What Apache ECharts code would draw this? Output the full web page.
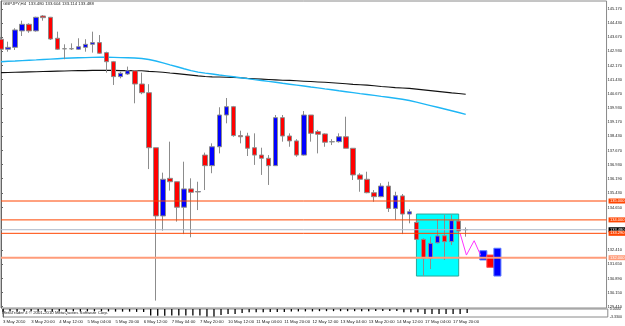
<!DOCTYPE html>
<html><head><meta charset="utf-8">
<script src="https://cdn.jsdelivr.net/npm/echarts@6/dist/echarts.min.js"></script>
<style>html,body{margin:0;padding:0;background:#fff}#c{width:625px;height:326px}</style>
</head><body><div id="c"></div>
<script>
// ---- data (GBPJPY, H4) ----
const timeLabelIdx = [0,4,8,12,16,20,24,28,32,36,40,44,48,52,56,60,64];
const timeLabels = ["3 May 2010","3 May 20:00","4 May 12:00","5 May 04:00","5 May 20:00","6 May 12:00","7 May 04:00","7 May 20:00","10 May 12:00","11 May 04:00","11 May 20:00","12 May 12:00","13 May 04:00","13 May 20:00","14 May 12:00","17 May 04:00","17 May 20:00"];
const opens  = [143.56,143.03,143.13,144.00,144.35,144.00,144.79,144.72,143.61,143.05,143.06,143.03,143.13,143.29,143.38,142.85,142.37,141.58,141.72,141.89,141.19,140.73,137.82,134.21,136.20,136.02,134.67,135.64,135.48,137.43,136.87,137.87,139.55,139.99,138.46,138.44,137.82,137.43,137.26,136.87,139.41,138.44,138.18,137.43,139.55,138.67,138.55,138.13,138.14,138.40,137.79,136.38,136.15,135.44,135.23,135.79,134.61,135.27,134.31,133.87,132.97,131.97,132.79,133.16,132.85,133.94,133.480];
const highs  = [143.68,143.43,144.14,144.54,144.40,144.75,144.84,144.74,143.96,143.29,143.34,143.61,143.56,143.96,143.78,142.90,142.41,141.84,142.11,141.93,141.79,141.18,137.82,136.50,138.14,136.02,137.08,136.20,136.02,137.56,138.05,139.96,140.45,140.03,138.72,138.61,138.58,137.82,137.43,139.55,139.55,138.58,138.27,139.76,139.55,138.76,138.58,138.27,138.58,139.46,137.79,136.47,136.55,135.58,135.94,136.02,135.49,135.37,134.56,134.00,133.03,133.11,134.03,134.26,134.26,134.00,133.604];
const lows   = [142.99,142.90,142.99,143.73,143.90,143.96,144.54,143.52,142.99,142.50,142.99,142.99,142.90,142.85,142.78,141.79,141.14,141.49,141.67,140.17,140.65,136.69,129.73,133.43,135.55,133.91,133.25,133.08,134.52,135.58,136.47,137.52,139.11,138.40,138.05,137.38,136.91,136.38,135.85,136.87,138.14,137.87,137.34,137.40,138.14,137.52,137.87,137.96,138.09,137.79,136.11,135.49,135.41,134.96,135.20,134.42,134.00,133.25,133.82,132.94,131.05,131.40,132.76,131.88,132.67,133.41,133.114];
const closes = [143.03,143.13,144.05,144.35,144.00,144.72,144.70,143.57,143.03,143.06,143.05,143.16,143.29,143.38,142.82,142.37,141.58,141.76,141.89,141.19,140.73,137.82,134.21,136.15,136.02,134.67,135.64,135.46,135.50,136.87,137.87,139.55,139.99,138.46,138.40,137.79,137.43,137.26,136.87,139.41,138.44,138.18,137.43,139.55,138.58,138.53,138.11,138.14,138.40,137.79,136.38,136.15,135.44,135.23,135.79,134.61,135.28,134.31,134.43,132.97,131.97,132.76,133.15,132.85,133.96,133.41,133.488];
const maSlow = [141.79,141.80,141.81,141.82,141.83,141.84,141.85,141.86,141.87,141.88,141.89,141.90,141.90,141.91,141.915,141.91,141.91,141.90,141.90,141.89,141.89,141.86,141.84,141.81,141.77,141.74,141.70,141.66,141.62,141.59,141.57,141.56,141.55,141.54,141.52,141.49,141.47,141.45,141.43,141.41,141.39,141.38,141.36,141.34,141.32,141.30,141.28,141.26,141.23,141.20,141.17,141.15,141.13,141.10,141.06,141.03,141.00,140.98,140.96,140.92,140.88,140.84,140.80,140.76,140.72,140.69,140.65];
const maFast = [142.370,142.392,142.407,142.429,142.450,142.466,142.487,142.508,142.529,142.550,142.566,142.577,142.587,142.598,142.603,142.603,142.598,142.587,142.577,142.566,142.540,142.487,142.407,142.312,142.206,142.101,141.995,141.899,141.820,141.767,141.720,141.667,141.619,141.571,141.524,141.476,141.423,141.376,141.328,141.280,141.228,141.180,141.132,141.085,141.032,140.984,140.931,140.884,140.831,140.783,140.735,140.683,140.635,140.587,140.534,140.487,140.439,140.386,140.317,140.228,140.138,140.048,139.958,139.868,139.778,139.683,139.587];
const priceTicks = [145.170,144.430,143.670,142.930,142.170,141.430,140.670,139.930,139.170,138.430,137.670,136.930,136.190,135.430,134.650,132.410,131.650,130.890,130.150,129.410];
const levelPrices = [135.000,134.000,133.480,133.290,132.000];
const levelKinds = ['level','level','bid','level','support'];
const boxBars = [59,65];
const boxPrices = [134.31,131.03];
const zigzagX = [65.2,66.1,67.2,68.1];
const zigzagY = [133.29,132.14,132.90,132.14];
const projBars = [[68,69],[69,70],[70,71]];
const projPrices = [[132.37,131.88],[132.14,131.49],[132.50,131.03]];
const projKinds = ['up','down','up'];
const indValues = [-1.0,-1.0,-1.1,-1.0,-0.9,-1.0,-1.0,-1.1,-1.0,-1.0,-0.9,-1.0,-1.0,-1.0,-1.0,-1.0,-1.1,-1.1,-1.1,-1.2,-1.2,-2.7,-2.8,-2.8,-2.7,-2.7,-2.7,-2.7,-2.7,-3.1,-3.1,-2.5,-2.1,-2.1,-1.7,-1.4,-1.4,-1.4,-1.3,-1.3,-1.3,-1.0,-1.0,-1.0,-1.0,-0.9,-0.9,-0.9,-0.9,-0.9,-0.9,-0.9,-0.9,-0.8,-0.8,-0.8,-0.8,-1.4,-1.4,-1.4,-2.1,-2.1,-2.1,-2.1,-2.1,-2.1,-1.7];
const indTicks = [0,-3.33];
const headerText = "GBPJPY,H4  133.480 133.604 133.114 133.488";
const footerText = "MetaTrader 4 \u00a9 2001-2010 MetaQuotes Software Corp.";

// ---- chart ----
const FONT = 'Liberation Sans';
const chart = echarts.init(document.getElementById('c'), null, {renderer:'canvas'});
const candleData = opens.map((o,i)=>[i,o,closes[i],lows[i],highs[i]]);
const XMAX = 86;

const kindStyle = {
  level:  {line:'#FF4500', bg:'#FF4500', width:1},
  bid:    {line:'#AEB8C8', bg:'#000000', width:1},
  support:{line:'#FF9C7A', bg:'#FF9C7A', width:2}
};
const levelSeries = levelPrices.map((v,k)=>{
  const st = kindStyle[levelKinds[k]];
  return {type:'line', name:'lvl'+k, xAxisIndex:0, yAxisIndex:0, z:6, silent:true, showSymbol:false,
    data:[[0,v],[XMAX,v]],
    lineStyle:{color:st.line, width:st.width, type:'solid'},
    endLabel:{show:true, distance:2, fontSize:4, fontFamily:FONT, color:'#fff', backgroundColor:st.bg, padding:[0.5,1.5,0.5,1.5], formatter:p=>p.value[1].toFixed(3)}};
});

const projAreas = projBars.map((b,k)=>{
  const up = projKinds[k]==='up';
  return [{xAxis:b[0], yAxis:projPrices[k][0], itemStyle:{color: up?'#0000FF':'#FF0000', borderColor: up?'#5C7CFF':'#FF5050', borderWidth:1, opacity:1}},
          {xAxis:b[1], yAxis:projPrices[k][1]}];
});

const option = {
  animation:false,
  backgroundColor:'#fff',
  grid:[
    {left:1, top:1, width:607, height:307, show:true, borderColor:'#8a8a8a', borderWidth:1, backgroundColor:'#fff'},
    {left:1, top:309, width:607, height:8, show:true, borderColor:'#8a8a8a', borderWidth:1, backgroundColor:'#fff'}
  ],
  xAxis:[
    {gridIndex:0, type:'value', min:0, max:XMAX, axisLine:{show:false}, axisTick:{show:false}, axisLabel:{show:false}, splitLine:{show:false}},
    {gridIndex:1, type:'value', min:0, max:XMAX, axisLine:{show:false}, axisTick:{show:false}, splitLine:{show:false},
     axisLabel:{customValues:timeLabelIdx, formatter:v=>timeLabels[timeLabelIdx.indexOf(v)] || '', align:'left', fontSize:4.3, fontFamily:FONT, color:'#222', margin:3}}
  ],
  yAxis:[
    {gridIndex:0, type:'value', position:'right', min:129.339, max:145.582, scale:true, splitLine:{show:false},
     axisLine:{show:true, lineStyle:{color:'#666'}},
     axisTick:{show:true, length:2, customValues:priceTicks, lineStyle:{color:'#666'}},
     axisLabel:{customValues:priceTicks, formatter:v=>v.toFixed(3), fontSize:4, fontFamily:FONT, color:'#222', margin:1}},
    {gridIndex:1, type:'value', position:'right', min:-3.33, max:0, splitLine:{show:false},
     axisLine:{show:true, lineStyle:{color:'#666'}}, axisTick:{show:false},
     axisLabel:{customValues:indTicks, formatter:v=>v.toFixed(4), fontSize:3.6, fontFamily:FONT, color:'#222', margin:2}}
  ],
  series:[
    {type:'line', name:'box', xAxisIndex:0, yAxisIndex:0, data:[], z:1, silent:true,
     markArea:{silent:true, itemStyle:{opacity:1}, data:[[{xAxis:boxBars[0], yAxis:boxPrices[0], itemStyle:{color:'#00FFFF', borderColor:'#2AA89A', borderWidth:1, opacity:1}},{xAxis:boxBars[1], yAxis:boxPrices[1]}]]}},
    {type:'line', name:'maSlow', xAxisIndex:0, yAxisIndex:0, data:maSlow.map((v,i)=>[i,v]), showSymbol:false, z:2, lineStyle:{color:'#111', width:1.1}},
    {type:'line', name:'maFast', xAxisIndex:0, yAxisIndex:0, data:maFast.map((v,i)=>[i,v]), showSymbol:false, z:2, lineStyle:{color:'#1EB6F5', width:1.4}},
    {type:'candlestick', name:'GBPJPY', xAxisIndex:0, yAxisIndex:0, z:3, barWidth:5,
     dimensions:['idx','open','close','lowest','highest'], encode:{x:'idx', y:['open','close','lowest','highest']},
     data:candleData,
     itemStyle:{color:'#0000FF', color0:'#FF0000', borderColor:'#8c8c8c', borderColor0:'#8c8c8c', borderWidth:1}},
    {type:'line', name:'proj', xAxisIndex:0, yAxisIndex:0, data:[], z:4, silent:true,
     markArea:{silent:true, itemStyle:{opacity:1}, data:projAreas}},
    {type:'line', name:'zigzag', xAxisIndex:0, yAxisIndex:0, data:zigzagX.map((x,i)=>[x,zigzagY[i]]), showSymbol:false, z:5, lineStyle:{color:'#FF33FF', width:1}},
    ...levelSeries,
    {type:'bar', name:'ind', xAxisIndex:1, yAxisIndex:1, data:indValues.map((v,i)=>[i,v]), barWidth:1.3, itemStyle:{color:'#000'}, z:2}
  ],
  graphic:[
    {type:'text', left:3, top:2, style:{text:headerText, fontSize:4.3, fontFamily:FONT, fill:'#222'}},
    {type:'text', left:2, top:311, style:{text:footerText, fontSize:4.3, fontFamily:FONT, fill:'#222'}}
  ]
};
chart.setOption(option);
</script>
</body></html>
